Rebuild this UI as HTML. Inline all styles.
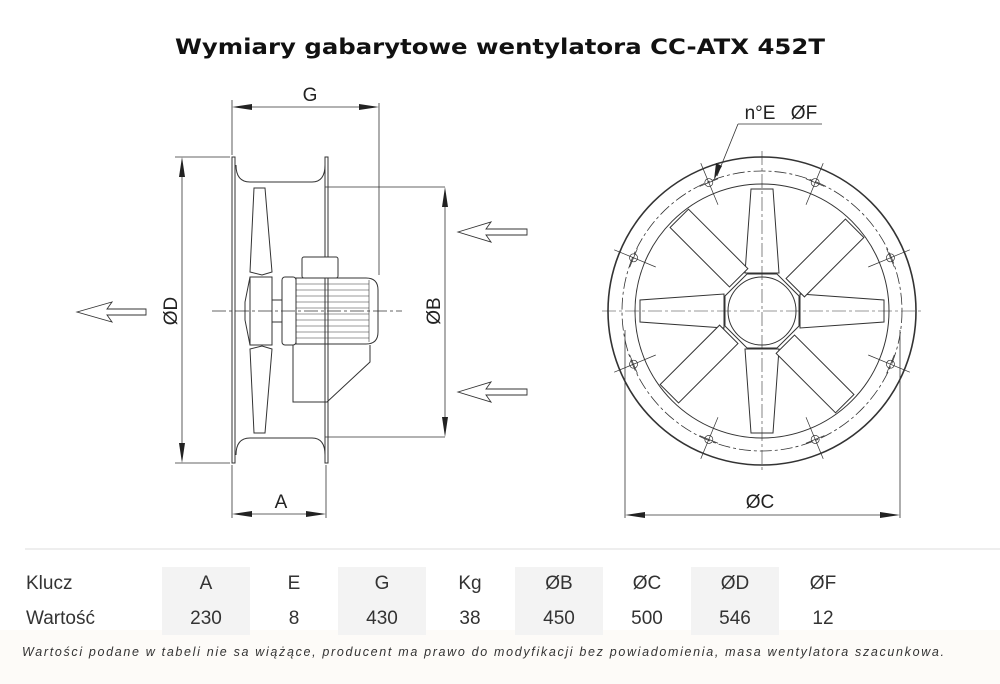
<!DOCTYPE html>
<html><head><meta charset="utf-8"><style>
html,body{margin:0;padding:0;background:#fff;}
svg{display:block;}
</style></head><body>
<svg width="1000" height="684" viewBox="0 0 1000 684" xmlns="http://www.w3.org/2000/svg">
<rect x="0" y="630" width="1000" height="54" fill="#fdfbf8"/>
<text x="500" y="54" text-anchor="middle" font-family="DejaVu Sans, sans-serif" font-weight="bold" font-size="21" textLength="650" lengthAdjust="spacingAndGlyphs" fill="#111">Wymiary gabarytowe wentylatora CC-ATX 452T</text>

<g fill="none" stroke="#333" stroke-width="1">
<rect x="232" y="157" width="3" height="306" fill="#fff"/>
<rect x="325" y="157" width="3" height="306" fill="#fff"/>
<path d="M236 165 Q236 182 250 182 L312 182 Q325 182 325 165"/>
<path d="M236 455 Q236 438 250 438 L312 438 Q325 438 325 455"/>
<line x1="325" y1="187" x2="445" y2="187" stroke-width="0.8"/>
<line x1="325" y1="437" x2="445" y2="437" stroke-width="0.8"/>
<path d="M254 188 L265 188 L272 272 L262 275 L250 272 Z"/>
<path d="M254 433 L265 433 L272 349 L262 346 L250 349 Z"/>
<rect x="250" y="277" width="22" height="68"/>
<path d="M250 277 L245 302 L245 320 L250 345"/>
<rect x="272" y="300" width="10" height="22"/>
<rect x="282" y="277" width="14" height="68" rx="3"/>
<path d="M296 278 L366 278 Q378 278 378 290 L378 332 Q378 344 366 344 L296 344 Z"/>
<g stroke-width="0.6">
<line x1="296" y1="284" x2="369" y2="284"/><line x1="296" y1="290" x2="369" y2="290"/>
<line x1="296" y1="296" x2="369" y2="296"/><line x1="296" y1="302" x2="369" y2="302"/>
<line x1="296" y1="308" x2="369" y2="308"/><line x1="296" y1="314" x2="369" y2="314"/>
<line x1="296" y1="320" x2="369" y2="320"/><line x1="296" y1="326" x2="369" y2="326"/>
<line x1="296" y1="332" x2="369" y2="332"/><line x1="296" y1="338" x2="369" y2="338"/>
<line x1="369" y1="280" x2="369" y2="342"/>
</g>
<rect x="302" y="257" width="36" height="21" rx="2" fill="#fff"/>
<line x1="325" y1="187" x2="325" y2="257" stroke-width="0.8"/>
<path d="M293 345 L293 402 L327 402 L370 362 L370 345"/>
<line x1="212" y1="311" x2="402" y2="311" stroke-dasharray="14,3,3,3" stroke-width="0.8"/>
<g stroke-width="0.8">
<line x1="175" y1="157" x2="230" y2="157"/><line x1="175" y1="463" x2="230" y2="463"/>
<line x1="182" y1="160" x2="182" y2="460"/>
<line x1="445" y1="190" x2="445" y2="434"/>
<line x1="232" y1="100" x2="232" y2="155"/><line x1="379" y1="103" x2="379" y2="275"/>
<line x1="236" y1="107" x2="376" y2="107"/>
<line x1="232" y1="465" x2="232" y2="518"/><line x1="326" y1="465" x2="326" y2="518"/>
<line x1="236" y1="514" x2="323" y2="514"/>
</g>
<g fill="#222" stroke="none">
<path d="M182 157 L179 177 L185 177 Z"/><path d="M182 463 L179 443 L185 443 Z"/>
<path d="M445 187 L442 207 L448 207 Z"/><path d="M445 437 L442 417 L448 417 Z"/>
<path d="M232 107 L252 104 L252 110 Z"/><path d="M379 107 L359 104 L359 110 Z"/>
<path d="M232 514 L252 511 L252 517 Z"/><path d="M326 514 L306 511 L306 517 Z"/>
</g>
<path d="M77 312 L112 302 L107 309 L146 309 L146 315 L107 315 L112 322 Z" stroke-width="0.9"/>
<path d="M458 232 L491 222 L486 229 L527 229 L527 235 L486 235 L491 242 Z" stroke-width="0.9"/>
<path d="M458 392 L491 382 L486 389 L527 389 L527 395 L486 395 L491 402 Z" stroke-width="0.9"/>

<g transform="translate(762,311)">
<circle r="154" stroke-width="1.6"/>
<circle r="140" stroke-dasharray="12,3,3,3" stroke-width="0.8"/>
<circle r="127"/>
<g fill="#fff">
<path id="bl" d="M-17 -38 L-11 -122 L11 -122 L17 -38 Z"/>
<use href="#bl" transform="rotate(90)"/><use href="#bl" transform="rotate(180)"/><use href="#bl" transform="rotate(270)"/>
<path d="M-6 -40 L-6 -124 L20 -124 L20 -40 Z" transform="rotate(45)"/>
<path d="M-6 -40 L-6 -124 L20 -124 L20 -40 Z" transform="rotate(135)"/>
<path d="M-6 -40 L-6 -124 L20 -124 L20 -40 Z" transform="rotate(225)"/>
<path d="M-6 -40 L-6 -124 L20 -124 L20 -40 Z" transform="rotate(315)"/>
<polygon points="-15,-37 15,-37 37,-15 37,15 15,37 -15,37 -37,15 -37,-15"/>
<circle r="34"/>
</g>
<line x1="-160" y1="0" x2="160" y2="0" stroke-dasharray="14,3,3,3" stroke-width="0.6"/>
<line x1="0" y1="-160" x2="0" y2="160" stroke-dasharray="14,3,3,3" stroke-width="0.6"/>
<g stroke-width="0.7">
<g transform="rotate(22.5)"><line x1="0" y1="-160" x2="0" y2="-115"/><line x1="-10" y1="-139" x2="10" y2="-139"/><circle cx="0" cy="-139" r="4"/></g>
<g transform="rotate(67.5)"><line x1="0" y1="-160" x2="0" y2="-115"/><line x1="-10" y1="-139" x2="10" y2="-139"/><circle cx="0" cy="-139" r="4"/></g>
<g transform="rotate(112.5)"><line x1="0" y1="-160" x2="0" y2="-115"/><line x1="-10" y1="-139" x2="10" y2="-139"/><circle cx="0" cy="-139" r="4"/></g>
<g transform="rotate(157.5)"><line x1="0" y1="-160" x2="0" y2="-115"/><line x1="-10" y1="-139" x2="10" y2="-139"/><circle cx="0" cy="-139" r="4"/></g>
<g transform="rotate(202.5)"><line x1="0" y1="-160" x2="0" y2="-115"/><line x1="-10" y1="-139" x2="10" y2="-139"/><circle cx="0" cy="-139" r="4"/></g>
<g transform="rotate(247.5)"><line x1="0" y1="-160" x2="0" y2="-115"/><line x1="-10" y1="-139" x2="10" y2="-139"/><circle cx="0" cy="-139" r="4"/></g>
<g transform="rotate(292.5)"><line x1="0" y1="-160" x2="0" y2="-115"/><line x1="-10" y1="-139" x2="10" y2="-139"/><circle cx="0" cy="-139" r="4"/></g>
<g transform="rotate(337.5)"><line x1="0" y1="-160" x2="0" y2="-115"/><line x1="-10" y1="-139" x2="10" y2="-139"/><circle cx="0" cy="-139" r="4"/></g>
</g>
</g>
<g stroke-width="0.8">
<line x1="625" y1="330" x2="625" y2="518"/><line x1="900" y1="330" x2="900" y2="518"/>
<line x1="628" y1="515" x2="897" y2="515"/>
<line x1="738" y1="124" x2="822" y2="124"/><line x1="738" y1="124" x2="717" y2="176"/>
</g>
<g fill="#222" stroke="none">
<path d="M625 515 L645 512 L645 518 Z"/><path d="M900 515 L880 512 L880 518 Z"/>
<path d="M714 180 L716 163 L722 166 Z"/>
</g>
</g>

<g font-family="Liberation Sans, sans-serif" font-size="19" fill="#222" text-anchor="middle">
<text x="310" y="101">G</text>
<text x="281" y="508">A</text>
<text x="760" y="508">ØC</text>
<text x="760" y="119">n°E</text>
<text x="804" y="119">ØF</text>
<text transform="translate(177,311) rotate(-90)">ØD</text>
<text transform="translate(440,311) rotate(-90)">ØB</text>
</g>

<line x1="25" y1="549" x2="1000" y2="549" stroke="#ddd" stroke-width="1"/>
<g fill="#f3f3f3">
<rect x="162" y="567" width="88" height="68"/><rect x="338" y="567" width="88" height="68"/>
<rect x="515" y="567" width="88" height="68"/><rect x="691" y="567" width="88" height="68"/>
</g>
<g font-family="Liberation Sans Narrow, Liberation Sans, sans-serif" font-size="19" fill="#333" text-anchor="middle">
<text x="26" y="589" text-anchor="start">Klucz</text>
<text x="26" y="624" text-anchor="start">Wartość</text>
<text x="206" y="589">A</text><text x="294" y="589">E</text><text x="382" y="589">G</text><text x="470" y="589">Kg</text>
<text x="559" y="589">ØB</text><text x="647" y="589">ØC</text><text x="735" y="589">ØD</text><text x="823" y="589">ØF</text>
<text x="206" y="624">230</text><text x="294" y="624">8</text><text x="382" y="624">430</text><text x="470" y="624">38</text>
<text x="559" y="624">450</text><text x="647" y="624">500</text><text x="735" y="624">546</text><text x="823" y="624">12</text>
</g>
<text x="22" y="656" font-family="Liberation Sans, sans-serif" font-style="italic" font-size="12.5" fill="#333" textLength="922" lengthAdjust="spacing">Wartości podane w tabeli nie sa wiążące, producent ma prawo do modyfikacji bez powiadomienia, masa wentylatora szacunkowa.</text>
</svg>
</body></html>
